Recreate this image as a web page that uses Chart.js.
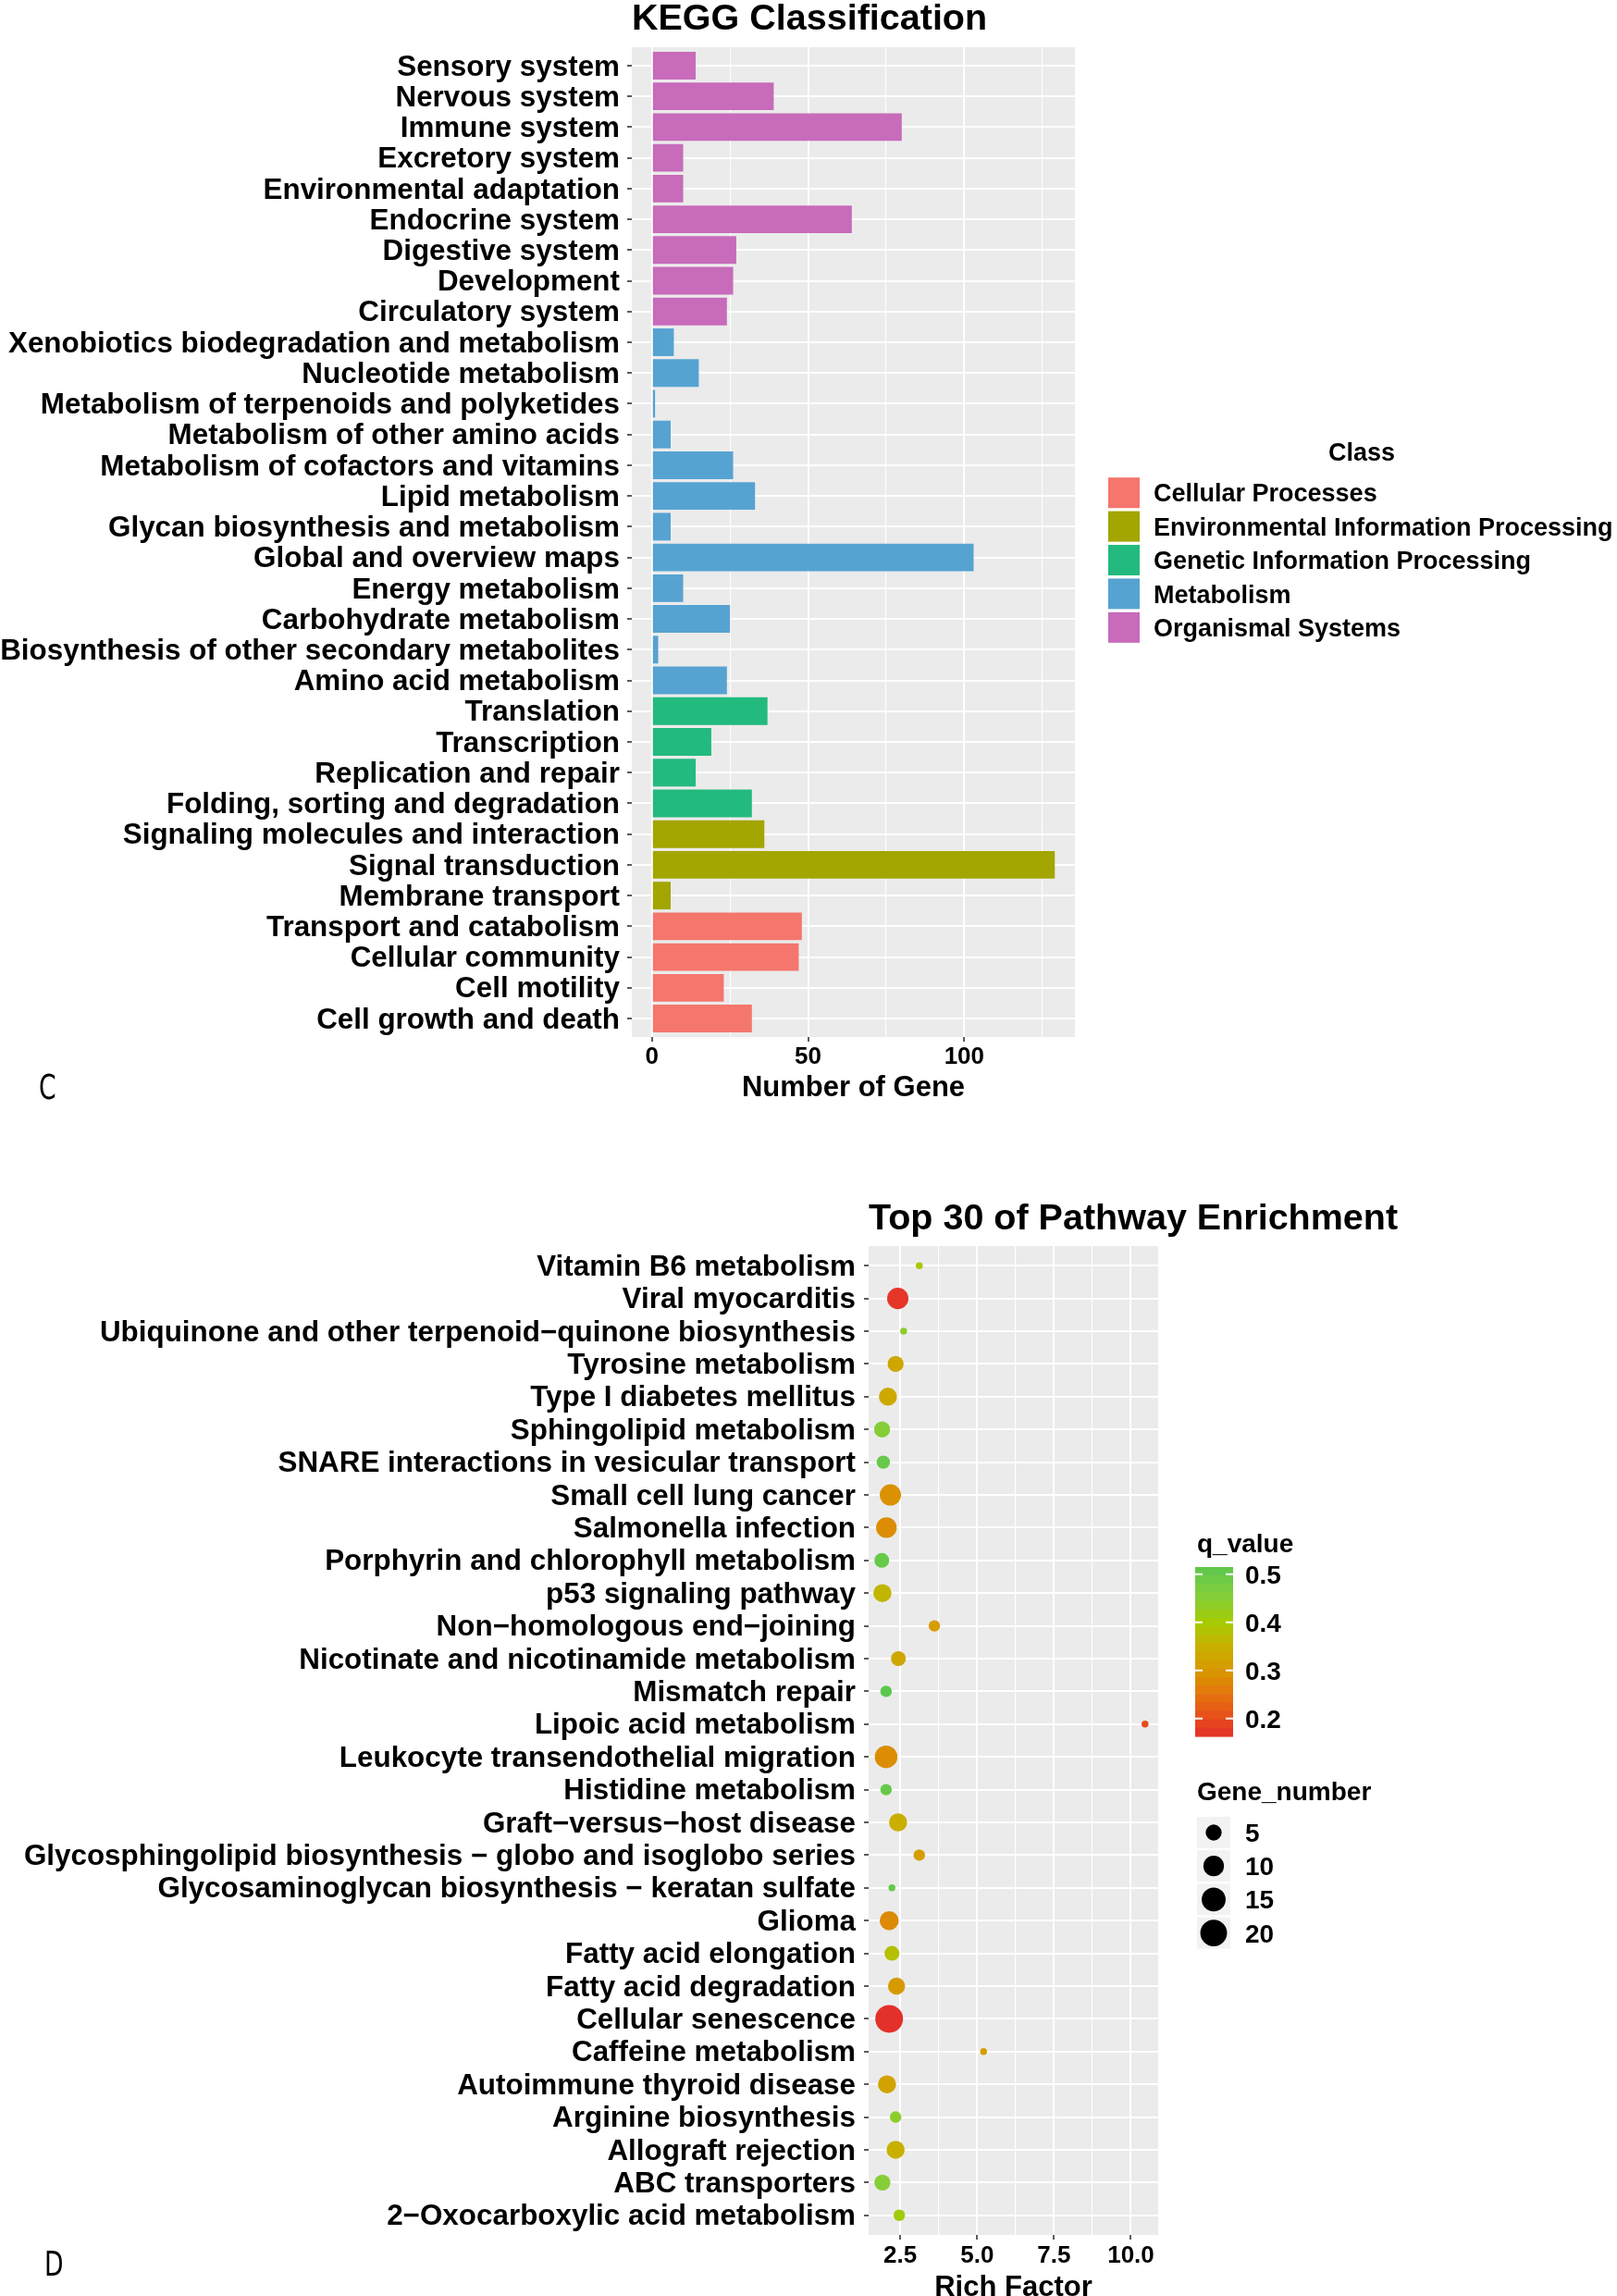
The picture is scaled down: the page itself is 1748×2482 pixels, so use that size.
<!DOCTYPE html>
<html>
<head>
<meta charset="utf-8">
<title>KEGG Classification / Top 30 of Pathway Enrichment</title>
<script src="https://cdn.jsdelivr.net/npm/chart.js@4.4.1/dist/chart.umd.min.js"></script>
<style>
    html, body { margin: 0; padding: 0; background: #ffffff; }
    #page { position: relative; width: 1748px; height: 2482px; overflow: hidden; }
    canvas { position: absolute; left: 0; }
    #keggChart { top: 0; }
    #enrichChart { top: 1230px; }
</style>
</head>
<body>
<div id="page">
    <canvas id="keggChart" width="1748" height="1230"></canvas>
    <canvas id="enrichChart" width="1748" height="1252"></canvas>
</div>
<script>
// --- KEGG classification (listed top to bottom as drawn) ---
const KEGG_TERMS = [
    'Sensory system', 'Nervous system', 'Immune system', 'Excretory system',
    'Environmental adaptation', 'Endocrine system', 'Digestive system', 'Development',
    'Circulatory system', 'Xenobiotics biodegradation and metabolism', 'Nucleotide metabolism',
    'Metabolism of terpenoids and polyketides', 'Metabolism of other amino acids',
    'Metabolism of cofactors and vitamins', 'Lipid metabolism', 'Glycan biosynthesis and metabolism',
    'Global and overview maps', 'Energy metabolism', 'Carbohydrate metabolism',
    'Biosynthesis of other secondary metabolites', 'Amino acid metabolism', 'Translation',
    'Transcription', 'Replication and repair', 'Folding, sorting and degradation',
    'Signaling molecules and interaction', 'Signal transduction', 'Membrane transport',
    'Transport and catabolism', 'Cellular community', 'Cell motility', 'Cell growth and death'
];
const KEGG_GENES = [14, 39, 80, 10, 10, 64, 27, 26, 24, 7, 15, 1, 6, 26, 33, 6,
                    103, 10, 25, 2, 24, 37, 19, 14, 32, 36, 129, 6, 48, 47, 23, 32];
const KEGG_CLASS = [
    'Organismal Systems', 'Organismal Systems', 'Organismal Systems', 'Organismal Systems',
    'Organismal Systems', 'Organismal Systems', 'Organismal Systems', 'Organismal Systems',
    'Organismal Systems', 'Metabolism', 'Metabolism', 'Metabolism', 'Metabolism', 'Metabolism',
    'Metabolism', 'Metabolism', 'Metabolism', 'Metabolism', 'Metabolism', 'Metabolism',
    'Metabolism', 'Genetic Information Processing', 'Genetic Information Processing',
    'Genetic Information Processing', 'Genetic Information Processing',
    'Environmental Information Processing', 'Environmental Information Processing',
    'Environmental Information Processing', 'Cellular Processes', 'Cellular Processes',
    'Cellular Processes', 'Cellular Processes'
];
const CLASS_NAMES = ['Cellular Processes', 'Environmental Information Processing',
                     'Genetic Information Processing', 'Metabolism', 'Organismal Systems'];
const KEGG_X_BREAKS = [0, 50, 100];

// --- Top 30 pathway enrichment (listed top to bottom as drawn) ---
const PATHWAYS = [
    'Vitamin B6 metabolism', 'Viral myocarditis',
    'Ubiquinone and other terpenoid\u2212quinone biosynthesis', 'Tyrosine metabolism',
    'Type I diabetes mellitus', 'Sphingolipid metabolism',
    'SNARE interactions in vesicular transport', 'Small cell lung cancer', 'Salmonella infection',
    'Porphyrin and chlorophyll metabolism', 'p53 signaling pathway',
    'Non\u2212homologous end\u2212joining', 'Nicotinate and nicotinamide metabolism',
    'Mismatch repair', 'Lipoic acid metabolism', 'Leukocyte transendothelial migration',
    'Histidine metabolism', 'Graft\u2212versus\u2212host disease',
    'Glycosphingolipid biosynthesis \u2212 globo and isoglobo series',
    'Glycosaminoglycan biosynthesis \u2212 keratan sulfate', 'Glioma', 'Fatty acid elongation',
    'Fatty acid degradation', 'Cellular senescence', 'Caffeine metabolism',
    'Autoimmune thyroid disease', 'Arginine biosynthesis', 'Allograft rejection',
    'ABC transporters', '2\u2212Oxocarboxylic acid metabolism'
];
const RICH_FACTOR = [3.12, 2.42, 2.61, 2.35, 2.10, 1.91, 1.95, 2.18, 2.05, 1.90,
                     1.92, 3.61, 2.44, 2.04, 10.46, 2.04, 2.04, 2.43, 3.12, 2.23,
                     2.14, 2.23, 2.38, 2.14, 5.21, 2.07, 2.35, 2.35, 1.92, 2.47];
const GENE_NUMBER = [1, 11, 1, 5, 7, 5, 3, 11, 10, 4, 7, 2, 4, 2, 1,
                     13, 2, 7, 2, 1, 8, 4, 6, 22, 1, 7, 2, 7, 5, 2];
const Q_VALUE = [0.39, 0.17, 0.44, 0.33, 0.335, 0.45, 0.50, 0.29, 0.285, 0.50,
                 0.36, 0.31, 0.33, 0.515, 0.20, 0.285, 0.50, 0.345, 0.31, 0.50,
                 0.28, 0.38, 0.305, 0.163, 0.315, 0.32, 0.44, 0.35, 0.45, 0.41];
const RICH_X_BREAKS = [2.5, 5, 7.5, 10];
const Q_BREAKS = [0.2, 0.3, 0.4, 0.5];
const SIZE_BREAKS = [5, 10, 15, 20];

// --- styles ---
const FAMILY = '"Liberation Sans", Arial, Helvetica, sans-serif';
const CLASS_COLORS = {
    'Cellular Processes': '#F4766D',
    'Environmental Information Processing': '#A3A500',
    'Genetic Information Processing': '#22BA7E',
    'Metabolism': '#56A3D2',
    'Organismal Systems': '#C76BBA'
};
// red (low q) -> orange -> lime -> green (high q)
const Q_COLOR_STOPS = [
    [0.00, [227, 48, 42]], [0.105, [231, 76, 30]], [0.247, [228, 116, 12]],
    [0.389, [216, 152, 0]], [0.531, [200, 176, 0]], [0.673, [166, 203, 0]],
    [0.815, [134, 206, 56]], [1.00, [92, 199, 78]]
];

Chart.defaults.font.family = FAMILY;
Chart.defaults.color = '#000000';

const bold = size => ({ family: FAMILY, size: size, weight: 'bold' });

function expandRange(lo, hi) {
    const pad = (hi - lo) * 0.05; // ggplot default expansion
    return [lo - pad, hi + pad];
}

// major breaks plus the minor (mid) breaks that fall inside the range
function withMinor(majors, min, max) {
    const step = majors[1] - majors[0];
    const values = [];
    majors.forEach(m => values.push(m - step / 2, m));
    values.push(majors[majors.length - 1] + step / 2);
    return values.filter(v => v >= min && v <= max).map(v => ({ value: v }));
}
const isMajor = (majors, v) => majors.some(m => Math.abs(m - v) < 1e-9);

function xGrid(majors) {
    return {
        color: '#FFFFFF',
        lineWidth: ctx => (ctx.tick && isMajor(majors, ctx.tick.value)) ? 2 : 1.1,
        tickColor: ctx => (ctx.tick && isMajor(majors, ctx.tick.value)) ? '#333333' : 'rgba(0,0,0,0)',
        tickLength: 5,
        tickWidth: 1.6
    };
}
const yGrid = { color: '#FFFFFF', lineWidth: 2, tickColor: '#333333', tickLength: 5, tickWidth: 1.6, offset: false };

const qMin = Math.min(...Q_VALUE), qMax = Math.max(...Q_VALUE);
function qColor(q) {
    const t = Math.max(0, Math.min(1, (q - qMin) / (qMax - qMin)));
    for (let i = 1; i < Q_COLOR_STOPS.length; i++) {
        const [t1, c1] = Q_COLOR_STOPS[i];
        const [t0, c0] = Q_COLOR_STOPS[i - 1];
        if (t <= t1) {
            const f = (t - t0) / (t1 - t0);
            const c = c0.map((v, k) => Math.round(v + (c1[k] - v) * f));
            return 'rgb(' + c.join(',') + ')';
        }
    }
    return 'rgb(92,199,78)';
}

const geneMin = Math.min(...GENE_NUMBER), geneMax = Math.max(...GENE_NUMBER);
function pointDiameter(n) { // area scale, like scale_size
    return 7.5 + 22.5 * Math.sqrt(Math.max(0, n - geneMin) / (geneMax - geneMin));
}

const panelBackground = {
    id: 'panelBackground',
    beforeDraw(chart) {
        const { ctx, chartArea: a } = chart;
        ctx.save();
        ctx.fillStyle = '#EBEBEB';
        ctx.fillRect(a.left, a.top, a.right - a.left, a.bottom - a.top);
        ctx.restore();
    }
};

function panelLetter(ctx, letter, x, y) {
    ctx.save();
    ctx.translate(x, y);
    ctx.scale(0.78, 1);
    ctx.font = '38px "Liberation Sans Narrow", "DejaVu Sans Condensed", ' + FAMILY;
    ctx.textAlign = 'left';
    ctx.textBaseline = 'alphabetic';
    ctx.fillStyle = '#000000';
    ctx.fillText(letter, 0, 0);
    ctx.restore();
}

// --- 1. KEGG Classification (horizontal bars) ---
const keggDecor = {
    id: 'keggDecor',
    afterDraw(chart) {
        const { ctx, chartArea: a } = chart;
        ctx.save();
        ctx.fillStyle = '#000000';
        ctx.textBaseline = 'alphabetic';
        ctx.font = 'bold 39.5px ' + FAMILY;
        ctx.textAlign = 'left';
        ctx.fillText('KEGG Classification', a.left, 31.5);

        ctx.font = 'bold 31px ' + FAMILY;
        ctx.textAlign = 'center';
        ctx.fillText('Number of Gene', (a.left + a.right) / 2, 1185);

        // legend "Class"
        const lx = a.right + 36;
        ctx.font = 'bold 27px ' + FAMILY;
        ctx.fillText('Class', 1472, 498);
        ctx.textAlign = 'left';
        CLASS_NAMES.forEach((name, i) => {
            const cy = 532.7 + i * 36.4;
            ctx.fillStyle = CLASS_COLORS[name];
            ctx.fillRect(lx, cy - 16.5, 34, 33);
            ctx.fillStyle = '#000000';
            ctx.fillText(name, lx + 49, cy + 9.6);
        });

        panelLetter(ctx, 'C', 42, 1188);
        ctx.restore();
    }
};

const keggRange = expandRange(0, Math.max(...KEGG_GENES));
new Chart(document.getElementById('keggChart'), {
    type: 'bar',
    data: {
        datasets: [{
            label: 'Number of Gene',
            data: KEGG_TERMS.map((t, i) => ({ x: KEGG_GENES[i], y: i })),
            backgroundColor: KEGG_CLASS.map(c => CLASS_COLORS[c]),
            borderWidth: 0,
            barPercentage: 0.9,
            categoryPercentage: 1
        }]
    },
    options: {
        indexAxis: 'y',
        responsive: false,
        animation: false,
        events: [],
        layout: { padding: { top: 51, right: 586, bottom: 0, left: 0 } },
        plugins: { legend: { display: false }, tooltip: { enabled: false } },
        scales: {
            x: {
                type: 'linear',
                position: 'bottom',
                min: keggRange[0],
                max: keggRange[1],
                afterBuildTicks: s => { s.ticks = withMinor(KEGG_X_BREAKS, keggRange[0], keggRange[1]); },
                afterFit: s => { s.height = 109; },
                ticks: {
                    autoSkip: false, maxRotation: 0, padding: 1,
                    font: bold(26), color: '#000000',
                    callback: v => isMajor(KEGG_X_BREAKS, v) ? String(v) : ''
                },
                grid: xGrid(KEGG_X_BREAKS),
                border: { display: false }
            },
            y: {
                type: 'linear',
                reverse: true,
                offset: false,
                min: -0.6,
                max: KEGG_TERMS.length - 0.4,
                afterBuildTicks: s => { s.ticks = KEGG_TERMS.map((t, i) => ({ value: i })); },
                afterFit: s => { s.width = 683; },
                ticks: {
                    autoSkip: false, padding: 8, labelOffset: 2,
                    font: bold(31.4), color: '#000000',
                    callback: v => KEGG_TERMS[v]
                },
                grid: yGrid,
                border: { display: false }
            }
        }
    },
    plugins: [panelBackground, keggDecor]
});

// --- 2. Top 30 of Pathway Enrichment (bubbles) ---
const enrichDecor = {
    id: 'enrichDecor',
    afterDraw(chart) {
        const { ctx, chartArea: a } = chart;
        ctx.save();
        ctx.fillStyle = '#000000';
        ctx.textBaseline = 'alphabetic';
        ctx.font = 'bold 39.5px ' + FAMILY;
        ctx.textAlign = 'left';
        ctx.fillText('Top 30 of Pathway Enrichment', a.left, 99);

        ctx.font = 'bold 31px ' + FAMILY;
        ctx.textAlign = 'center';
        ctx.fillText('Rich Factor', (a.left + a.right) / 2, 1252);

        // colour bar legend
        const bx = a.right + 40, bw = 41, bTop = 464, bH = 183;
        const yOf = q => bTop + (qMax - q) / (qMax - qMin) * bH;
        const bins = 20;
        for (let i = 0; i < bins; i++) {
            const q0 = qMax - (qMax - qMin) * i / bins;
            const q1 = qMax - (qMax - qMin) * (i + 1) / bins;
            ctx.fillStyle = qColor((q0 + q1) / 2);
            ctx.fillRect(bx, yOf(q0), bw, yOf(q1) - yOf(q0) + 0.6);
        }
        ctx.strokeStyle = '#FFFFFF';
        ctx.lineWidth = 2;
        Q_BREAKS.forEach(q => {
            const y = yOf(q);
            ctx.beginPath();
            ctx.moveTo(bx, y); ctx.lineTo(bx + 8, y);
            ctx.moveTo(bx + bw - 8, y); ctx.lineTo(bx + bw, y);
            ctx.stroke();
        });
        ctx.fillStyle = '#000000';
        ctx.textAlign = 'left';
        ctx.font = 'bold 28px ' + FAMILY;
        ctx.fillText('q_value', bx + 2, 448);
        Q_BREAKS.forEach(q => ctx.fillText(q.toFixed(1), bx + 54, yOf(q) + 10));

        // size legend
        ctx.fillText('Gene_number', bx + 2, 716);
        SIZE_BREAKS.forEach((n, i) => {
            const cy = 751 + i * 36.2;
            ctx.fillStyle = '#F2F2F2';
            ctx.fillRect(bx + 2, cy - 17, 36, 34);
            ctx.fillStyle = '#000000';
            ctx.beginPath();
            ctx.arc(bx + 20, cy, pointDiameter(n) / 2, 0, Math.PI * 2);
            ctx.fill();
            ctx.fillText(String(n), bx + 54, cy + 10);
        });

        panelLetter(ctx, 'D', 48, 1230);
        ctx.restore();
    }
};

const richRange = expandRange(Math.min(...RICH_FACTOR), Math.max(...RICH_FACTOR));
new Chart(document.getElementById('enrichChart'), {
    type: 'bubble',
    data: {
        datasets: [{
            label: 'Pathways',
            data: PATHWAYS.map((p, i) => ({ x: RICH_FACTOR[i], y: i, r: pointDiameter(GENE_NUMBER[i]) / 2 })),
            backgroundColor: ctx => qColor(Q_VALUE[ctx.dataIndex]),
            borderWidth: 0
        }]
    },
    options: {
        responsive: false,
        animation: false,
        events: [],
        layout: { padding: { top: 117, right: 496, bottom: 0, left: 0 } },
        plugins: { legend: { display: false }, tooltip: { enabled: false } },
        scales: {
            x: {
                type: 'linear',
                min: richRange[0],
                max: richRange[1],
                afterBuildTicks: s => { s.ticks = withMinor(RICH_X_BREAKS, richRange[0], richRange[1]); },
                afterFit: s => { s.height = 66; },
                ticks: {
                    autoSkip: false, maxRotation: 0, padding: 2,
                    font: bold(26), color: '#000000',
                    callback: v => isMajor(RICH_X_BREAKS, v) ? v.toFixed(1) : ''
                },
                grid: xGrid(RICH_X_BREAKS),
                border: { display: false }
            },
            y: {
                type: 'linear',
                reverse: true,
                offset: false,
                min: -0.6,
                max: PATHWAYS.length - 0.4,
                afterBuildTicks: s => { s.ticks = PATHWAYS.map((p, i) => ({ value: i })); },
                afterFit: s => { s.width = 939; },
                ticks: {
                    autoSkip: false, padding: 9, labelOffset: 2,
                    font: bold(31.4), color: '#000000',
                    callback: v => PATHWAYS[v]
                },
                grid: yGrid,
                border: { display: false }
            }
        }
    },
    plugins: [panelBackground, enrichDecor]
});
</script>
</body>
</html>
